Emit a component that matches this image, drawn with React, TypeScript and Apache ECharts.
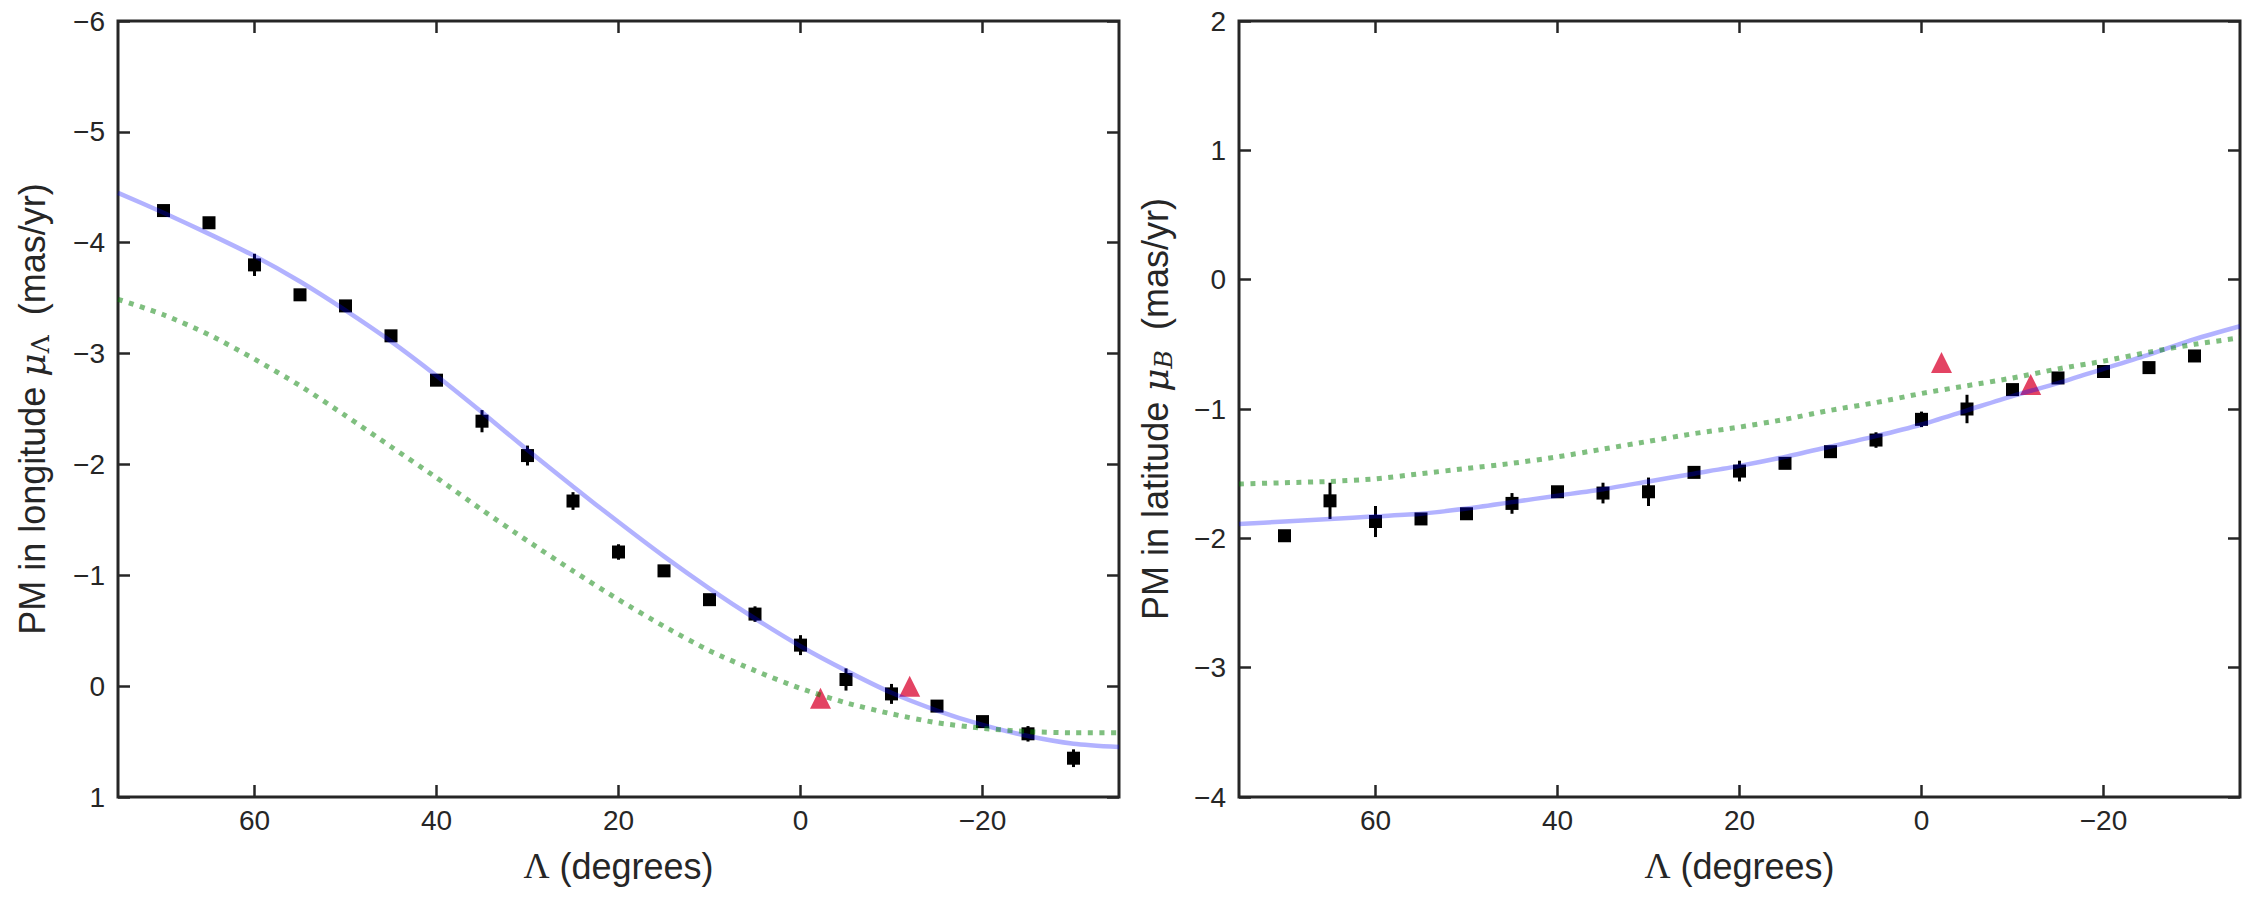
import React, { useEffect, useRef } from "react";
import * as echarts from "echarts";

// ---- data ----
const PT_X = [70, 65, 60, 55, 50, 45, 40, 35, 30, 25, 20, 15, 10, 5, 0, -5, -10, -15, -20, -25, -30];
const LON_Y = [-4.29, -4.18, -3.8, -3.53, -3.43, -3.16, -2.76, -2.39, -2.08, -1.67, -1.21, -1.04, -0.78, -0.65, -0.37, -0.06, 0.07, 0.18, 0.32, 0.43, 0.65];
const LON_ERR = [0.04, 0.05, 0.1, 0.04, 0.04, 0.03, 0.05, 0.1, 0.09, 0.08, 0.07, 0.03, 0.03, 0.07, 0.09, 0.1, 0.09, 0.03, 0.04, 0.07, 0.08];
const LAT_Y = [-1.98, -1.71, -1.87, -1.85, -1.81, -1.73, -1.64, -1.65, -1.64, -1.49, -1.48, -1.42, -1.33, -1.24, -1.08, -1.0, -0.85, -0.76, -0.71, -0.68, -0.59];
const LAT_ERR = [0.04, 0.14, 0.12, 0.03, 0.03, 0.08, 0.04, 0.08, 0.11, 0.03, 0.08, 0.03, 0.03, 0.06, 0.06, 0.11, 0.04, 0.03, 0.03, 0.03, 0.04];

const TRI_X = [-2.2, -12];
const TRI_LON = [0.11, 0.0];
const TRI_LAT = [-0.64, -0.81];

const CURVE_X = [75, 70, 65, 60, 55, 50, 45, 40, 35, 30, 25, 20, 15, 10, 5, 0, -5, -10, -15, -20, -25, -30, -35];
const LON_FIT = [-4.45, -4.27, -4.08, -3.88, -3.65, -3.39, -3.11, -2.8, -2.47, -2.13, -1.8, -1.48, -1.17, -0.88, -0.61, -0.36, -0.14, 0.06, 0.22, 0.35, 0.45, 0.52, 0.55];
const LON_ALT = [-3.49, -3.35, -3.17, -2.95, -2.71, -2.44, -2.16, -1.88, -1.59, -1.31, -1.04, -0.78, -0.54, -0.32, -0.14, 0.02, 0.15, 0.25, 0.33, 0.38, 0.41, 0.42, 0.42];
const LAT_FIT = [-1.89, -1.87, -1.85, -1.83, -1.81, -1.77, -1.72, -1.67, -1.62, -1.56, -1.5, -1.44, -1.37, -1.29, -1.21, -1.12, -1.01, -0.9, -0.8, -0.69, -0.58, -0.46, -0.36];
const LAT_ALT = [-1.58, -1.57, -1.56, -1.54, -1.5, -1.46, -1.42, -1.37, -1.31, -1.25, -1.19, -1.14, -1.08, -1.01, -0.95, -0.88, -0.82, -0.76, -0.69, -0.63, -0.56, -0.5, -0.45];

const X_TICKS = [60, 40, 20, 0, -20];
const X_RANGE = [-35, 75];
const LON_RANGE = [-6, 1];
const LAT_RANGE = [-4, 2];

const INK = "#262626";
const SANS = "Liberation Sans, Arial, sans-serif";
const SERIF = "DejaVu Serif, serif";

const fmt = (v: number) => (v < 0 ? "\u2212" + Math.abs(v) : String(v));

const G_LEFT = [118, 1239];
const G_TOP = 21;
const G_W = 1001;
const G_H = 776;

export default function App() {
  const ref = useRef<HTMLDivElement>(null);
  useEffect(() => {
    document.body.style.margin = "0";
    if (!ref.current) return;
    const chart = echarts.init(ref.current, undefined, { renderer: "svg" });

    const tick = (len = 12) => ({
      show: true,
      inside: true,
      length: len,
      lineStyle: { color: INK, width: 2.5 },
    });
    const noLine = { show: false, onZero: false };

    const xAxes: any[] = [];
    const yAxes: any[] = [];
    [0, 1].forEach((g) => {
      xAxes.push({
        type: "value", gridIndex: g, position: "bottom", min: X_RANGE[0], max: X_RANGE[1], inverse: true,
        axisLine: noLine, splitLine: { show: false },
        axisTick: { ...tick(), customValues: X_TICKS },
        axisLabel: { customValues: X_TICKS, formatter: fmt, fontSize: 28, color: INK, fontFamily: SANS, margin: 9 },
      });
      xAxes.push({
        type: "value", gridIndex: g, position: "top", min: X_RANGE[0], max: X_RANGE[1], inverse: true,
        axisLine: noLine, splitLine: { show: false },
        axisTick: { ...tick(), customValues: X_TICKS },
        axisLabel: { show: false },
      });
      const yr = g === 0 ? LON_RANGE : LAT_RANGE;
      const inv = g === 0;
      yAxes.push({
        type: "value", gridIndex: g, position: "left", min: yr[0], max: yr[1], interval: 1, inverse: inv,
        axisLine: noLine, splitLine: { show: false },
        axisTick: tick(),
        axisLabel: { formatter: fmt, fontSize: 28, color: INK, fontFamily: SANS, margin: 13 },
      });
      yAxes.push({
        type: "value", gridIndex: g, position: "right", min: yr[0], max: yr[1], interval: 1, inverse: inv,
        axisLine: noLine, splitLine: { show: false },
        axisTick: tick(),
        axisLabel: { show: false },
      });
    });

    const errRender = (params: any, api: any) => {
      const x = api.value(0);
      const y = api.value(1);
      const e = api.value(2);
      const p1 = api.coord([x, y - e]);
      const p2 = api.coord([x, y + e]);
      return {
        type: "line",
        shape: { x1: p1[0], y1: p1[1], x2: p2[0], y2: p2[1] },
        style: { stroke: "#000", lineWidth: 3 },
      };
    };

    const series: any[] = [];
    const panels = [
      { g: 0, ys: LON_Y, errs: LON_ERR, tri: TRI_LON, fit: LON_FIT, alt: LON_ALT },
      { g: 1, ys: LAT_Y, errs: LAT_ERR, tri: TRI_LAT, fit: LAT_FIT, alt: LAT_ALT },
    ];
    panels.forEach((p) => {
      const xi = p.g * 2;
      const yi = p.g * 2;
      series.push({
        type: "custom", xAxisIndex: xi, yAxisIndex: yi, z: 1,
        renderItem: errRender,
        encode: { x: 0, y: 1 },
        data: PT_X.map((x, i) => [x, p.ys[i], p.errs[i]]),
      });
      series.push({
        type: "scatter", xAxisIndex: xi, yAxisIndex: yi, z: 2,
        symbol: "rect", symbolSize: 13,
        itemStyle: { color: "#000", opacity: 1 },
        data: PT_X.map((x, i) => [x, p.ys[i]]),
      });
      series.push({
        type: "scatter", xAxisIndex: xi, yAxisIndex: yi, z: 3,
        symbol: "triangle", symbolSize: 21,
        itemStyle: { color: "rgb(220,20,60)", opacity: 0.8 },
        data: TRI_X.map((x, i) => [x, p.tri[i]]),
      });
      series.push({
        type: "line", xAxisIndex: xi, yAxisIndex: yi, z: 4,
        showSymbol: false, smooth: 0.25,
        lineStyle: { color: "rgba(0,0,255,0.3)", width: 4.5 },
        data: CURVE_X.map((x, i) => [x, p.fit[i]]),
      });
      series.push({
        type: "line", xAxisIndex: xi, yAxisIndex: yi, z: 4,
        showSymbol: false, smooth: 0.25,
        lineStyle: { color: "rgba(0,128,0,0.5)", width: 5, type: [5, 6.5], cap: "butt" },
        data: CURVE_X.map((x, i) => [x, p.alt[i]]),
      });
    });

    const labelRich = (italicSub: boolean) => ({
      a: { fontSize: 36, fontFamily: SANS, fill: INK },
      mu: { fontSize: 36, fontFamily: SERIF, fontStyle: "italic", fill: INK },
      sub: { fontSize: 25, fontFamily: SERIF, fontStyle: italicSub ? "italic" : "normal", fill: INK, padding: [16, 0, 0, 0] },
      L: { fontSize: 36, fontFamily: "Liberation Serif, serif", fill: INK },
    });

    const graphic: any[] = [
      {
        type: "text", x: 32, y: G_TOP + G_H / 2, rotation: Math.PI / 2,
        style: {
          text: "{a|PM in longitude }{mu|\u03bc}{sub|\u039b}{a|  (mas/yr)}",
          rich: labelRich(false), align: "center", verticalAlign: "middle",
        },
      },
      {
        type: "text", x: 1155, y: G_TOP + G_H / 2, rotation: Math.PI / 2,
        style: {
          text: "{a|PM in latitude }{mu|\u03bc}{sub|B}{a|  (mas/yr)}",
          rich: labelRich(true), align: "center", verticalAlign: "middle",
        },
      },
      ...G_LEFT.map((l) => ({
        type: "text", x: l + G_W / 2, y: 866,
        style: {
          text: "{L|\u039b}{a| (degrees)}",
          rich: labelRich(false), align: "center", verticalAlign: "middle",
        },
      })),
    ];

    chart.setOption({
      animation: false,
      backgroundColor: "#ffffff",
      grid: G_LEFT.map((l) => ({
        left: l, top: G_TOP, width: G_W, height: G_H,
        show: true, borderColor: INK, borderWidth: 3, backgroundColor: "transparent",
        containLabel: false,
      })),
      xAxis: xAxes,
      yAxis: yAxes,
      series,
      graphic,
    });

    return () => chart.dispose();
  }, []);

  return <div ref={ref} style={{ width: 2250, height: 900 }} />;
}
